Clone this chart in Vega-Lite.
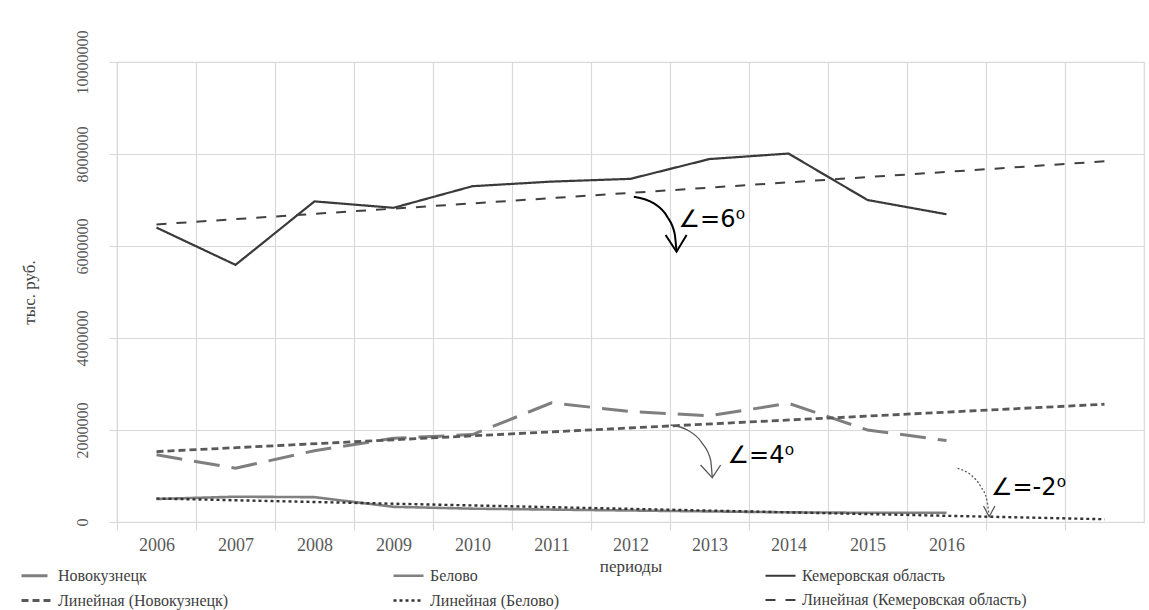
{
  "$schema": "https://vega.github.io/schema/vega-lite/v6.json",
  "width": 1027,
  "height": 460,
  "autosize": {"type": "none"},
  "padding": {"left": 117, "top": 62, "right": 5, "bottom": 88},
  "background": "white",
  "config": {
    "view": {"stroke": "#d9d9d9", "strokeWidth": 1.2},
    "axis": {
      "labelFont": "Liberation Serif",
      "titleFont": "Liberation Serif",
      "labelColor": "#595959",
      "titleColor": "#404040",
      "titleFontWeight": "normal",
      "gridColor": "#d9d9d9",
      "gridWidth": 1.2,
      "tickColor": "#d9d9d9",
      "tickWidth": 1.2,
      "domainColor": "#d9d9d9",
      "tickSize": 8
    },
    "legend": {
      "orient": "none",
      "legendX": -97,
      "legendY": 497,
      "columns": 3,
      "gridAlign": "all",
      "columnPadding": 105,
      "rowPadding": 0,
      "padding": 0,
      "symbolType": "stroke",
      "symbolSize": 900,
      "labelFont": "Liberation Serif",
      "labelFontSize": 16,
      "labelColor": "#404040",
      "labelLimit": 400,
      "labelOffset": 5
    }
  },
  "datasets": {
    "series": [
      {"series": "Новокузнецк", "year": 2006, "value": 1460000},
      {"series": "Новокузнецк", "year": 2007, "value": 1170000},
      {"series": "Новокузнецк", "year": 2008, "value": 1550000},
      {"series": "Новокузнецк", "year": 2009, "value": 1820000},
      {"series": "Новокузнецк", "year": 2010, "value": 1900000},
      {"series": "Новокузнецк", "year": 2011, "value": 2590000},
      {"series": "Новокузнецк", "year": 2012, "value": 2400000},
      {"series": "Новокузнецк", "year": 2013, "value": 2310000},
      {"series": "Новокузнецк", "year": 2014, "value": 2580000},
      {"series": "Новокузнецк", "year": 2015, "value": 2000000},
      {"series": "Новокузнецк", "year": 2016, "value": 1770000},
      {"series": "Белово", "year": 2006, "value": 500000},
      {"series": "Белово", "year": 2007, "value": 550000},
      {"series": "Белово", "year": 2008, "value": 540000},
      {"series": "Белово", "year": 2009, "value": 330000},
      {"series": "Белово", "year": 2010, "value": 290000},
      {"series": "Белово", "year": 2011, "value": 270000},
      {"series": "Белово", "year": 2012, "value": 250000},
      {"series": "Белово", "year": 2013, "value": 230000},
      {"series": "Белово", "year": 2014, "value": 210000},
      {"series": "Белово", "year": 2015, "value": 200000},
      {"series": "Белово", "year": 2016, "value": 200000},
      {"series": "Кемеровская область", "year": 2006, "value": 6400000},
      {"series": "Кемеровская область", "year": 2007, "value": 5590000},
      {"series": "Кемеровская область", "year": 2008, "value": 6970000},
      {"series": "Кемеровская область", "year": 2009, "value": 6830000},
      {"series": "Кемеровская область", "year": 2010, "value": 7300000},
      {"series": "Кемеровская область", "year": 2011, "value": 7400000},
      {"series": "Кемеровская область", "year": 2012, "value": 7460000},
      {"series": "Кемеровская область", "year": 2013, "value": 7890000},
      {"series": "Кемеровская область", "year": 2014, "value": 8010000},
      {"series": "Кемеровская область", "year": 2015, "value": 7000000},
      {"series": "Кемеровская область", "year": 2016, "value": 6690000},
      {"series": "Линейная (Новокузнецк)", "year": 2006, "value": 1530000},
      {"series": "Линейная (Новокузнецк)", "year": 2018, "value": 2560000},
      {"series": "Линейная (Белово)", "year": 2006, "value": 510000},
      {"series": "Линейная (Белово)", "year": 2018, "value": 60000},
      {"series": "Линейная (Кемеровская область)", "year": 2006, "value": 6470000},
      {"series": "Линейная (Кемеровская область)", "year": 2018, "value": 7840000}
    ],
    "arrows": [
      {"part": "c1", "year": 2012.042, "value": 7072000},
      {"part": "c1", "year": 2012.296, "value": 6928000},
      {"part": "c1", "year": 2012.465, "value": 6637000},
      {"part": "c1", "year": 2012.558, "value": 6276000},
      {"part": "c1", "year": 2012.583, "value": 5876000},
      {"part": "h1", "year": 2012.444, "value": 6239000},
      {"part": "h1", "year": 2012.583, "value": 5876000},
      {"part": "h1", "year": 2012.71, "value": 6239000},
      {"part": "c2", "year": 2012.507, "value": 2109000},
      {"part": "c2", "year": 2012.719, "value": 2000000},
      {"part": "c2", "year": 2012.909, "value": 1711000},
      {"part": "c2", "year": 2013.014, "value": 1348000},
      {"part": "c2", "year": 2013.035, "value": 963000},
      {"part": "h2", "year": 2012.887, "value": 1239000},
      {"part": "h2", "year": 2013.035, "value": 963000},
      {"part": "h2", "year": 2013.141, "value": 1239000},
      {"part": "c3", "year": 2016.14, "value": 1167000},
      {"part": "c3", "year": 2016.309, "value": 1022000},
      {"part": "c3", "year": 2016.435, "value": 767000},
      {"part": "c3", "year": 2016.511, "value": 478000},
      {"part": "c3", "year": 2016.54, "value": 115000},
      {"part": "h3", "year": 2016.469, "value": 348000},
      {"part": "h3", "year": 2016.54, "value": 115000},
      {"part": "h3", "year": 2016.613, "value": 348000}
    ],
    "notes": [
      {"label": "∠=6⁰", "year": 2012.608, "value": 6413000},
      {"label": "∠=4⁰", "year": 2013.229, "value": 1289000},
      {"label": "∠=-2⁰", "year": 2016.562, "value": 587000}
    ]
  },
  "encoding": {
    "x": {
      "field": "year",
      "type": "quantitative",
      "scale": {"domain": [2005.5, 2018.5], "nice": false, "zero": false},
      "axis": {
        "title": "периоды",
        "titleFontSize": 17,
        "titlePadding": 4,
        "values": [2005.5, 2006.5, 2007.5, 2008.5, 2009.5, 2010.5, 2011.5, 2012.5, 2013.5, 2014.5, 2015.5, 2016.5, 2017.5],
        "labelExpr": "datum.value < 2016 ? format(datum.value + 0.5, 'd') : ''",
        "labelOffset": 39.5,
        "labelAlign": "center",
        "labelFlush": false,
        "labelOverlap": false,
        "labelFontSize": 18,
        "labelPadding": 6,
        "grid": true
      }
    },
    "y": {
      "field": "value",
      "type": "quantitative",
      "scale": {"domain": [0, 10000000], "nice": false},
      "axis": {
        "title": "тыс. руб.",
        "titleFontSize": 17,
        "titlePadding": 36,
        "values": [0, 2000000, 4000000, 6000000, 8000000, 10000000],
        "format": "d",
        "labelAngle": 270,
        "labelAlign": "center",
        "labelBaseline": "bottom",
        "labelFontSize": 16,
        "labelPadding": 19,
        "labelOverlap": false,
        "labelFlush": false,
        "domain": false,
        "grid": true
      }
    }
  },
  "layer": [
    {
      "data": {"name": "series"},
      "mark": {"type": "line"},
      "encoding": {
        "color": {
          "field": "series",
          "type": "nominal",
          "scale": {
            "domain": ["Новокузнецк", "Линейная (Новокузнецк)", "Белово", "Линейная (Белово)", "Кемеровская область", "Линейная (Кемеровская область)"],
            "range": ["#7f7f7f", "#595959", "#808080", "#333333", "#3a3a3a", "#404040"]
          },
          "legend": {"title": null}
        },
        "strokeDash": {
          "field": "series",
          "type": "nominal",
          "scale": {
            "domain": ["Новокузнецк", "Линейная (Новокузнецк)", "Белово", "Линейная (Белово)", "Кемеровская область", "Линейная (Кемеровская область)"],
            "range": [[26, 12], [7, 4], [1, 0], [3, 3], [1, 0], [10, 10]]
          },
          "legend": {"title": null}
        },
        "strokeWidth": {
          "field": "series",
          "type": "nominal",
          "scale": {
            "domain": ["Новокузнецк", "Линейная (Новокузнецк)", "Белово", "Линейная (Белово)", "Кемеровская область", "Линейная (Кемеровская область)"],
            "range": [3, 2, 2, 2.2, 5, 2.5]
          },
          "legend": {"title": null}
        }
      }
    },
    {
      "data": {"name": "arrows"},
      "transform": [{"filter": "datum.part == 'c1'"}],
      "mark": {"type": "line", "interpolate": "monotone", "color": "#000000", "strokeWidth": 2}
    },
    {
      "data": {"name": "arrows"},
      "transform": [{"filter": "datum.part == 'h1'"}],
      "mark": {"type": "line", "color": "#000000", "strokeWidth": 2}
    },
    {
      "data": {"name": "arrows"},
      "transform": [{"filter": "datum.part == 'c2'"}],
      "mark": {"type": "line", "interpolate": "monotone", "color": "#595959", "strokeWidth": 1.3}
    },
    {
      "data": {"name": "arrows"},
      "transform": [{"filter": "datum.part == 'h2'"}],
      "mark": {"type": "line", "color": "#595959", "strokeWidth": 1.3}
    },
    {
      "data": {"name": "arrows"},
      "transform": [{"filter": "datum.part == 'c3'"}],
      "mark": {"type": "line", "interpolate": "monotone", "color": "#595959", "strokeWidth": 1.3, "strokeDash": [2, 2]}
    },
    {
      "data": {"name": "arrows"},
      "transform": [{"filter": "datum.part == 'h3'"}],
      "mark": {"type": "line", "color": "#595959", "strokeWidth": 1.3}
    },
    {
      "data": {"name": "notes"},
      "mark": {"type": "text", "align": "left", "baseline": "alphabetic", "font": "DejaVu Sans", "fontSize": 24, "color": "#000000"},
      "encoding": {"text": {"field": "label", "type": "nominal"}}
    }
  ]
}
